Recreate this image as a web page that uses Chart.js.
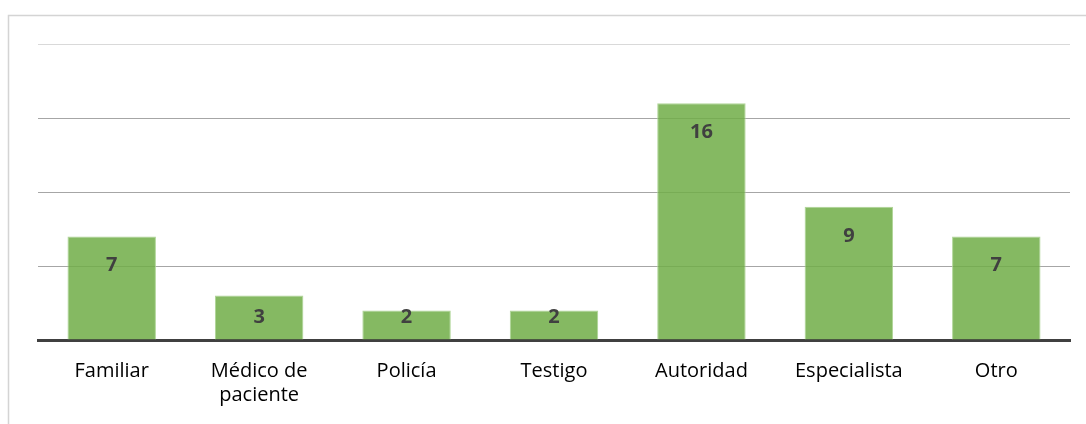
<!DOCTYPE html>
<html>
<head>
<meta charset="utf-8">
<script src="https://cdn.jsdelivr.net/npm/chart.js@4"></script>
<style>
  html, body { margin: 0; padding: 0; background: #ffffff; }
  #wrap { width: 1086px; height: 424px; position: relative; }
</style>
</head>
<body>
<div id="wrap"><canvas id="c" width="1086" height="424"></canvas></div>
<script>
const categories = ["Familiar", ["Médico de", "paciente"], "Policía", "Testigo", "Autoridad", "Especialista", "Otro"];
const values = [7, 3, 2, 2, 16, 9, 7];
const yTicks = [0, 5, 10, 15, 20];

const framePlugin = {
  id: 'frame',
  beforeDraw(chart) {
    const ctx = chart.ctx;
    ctx.save();
    ctx.fillStyle = '#ffffff';
    ctx.fillRect(0, 0, chart.width, chart.height);
    ctx.strokeStyle = '#d4d4d4';
    ctx.lineWidth = 1.5;
    ctx.beginPath();
    ctx.moveTo(8.5, chart.height + 5);
    ctx.lineTo(8.5, 15.5);
    ctx.lineTo(chart.width + 5, 15.5);
    ctx.stroke();
    ctx.restore();
  }
};

const labelPlugin = {
  id: 'barLabels',
  afterDatasetsDraw(chart) {
    const ctx = chart.ctx;
    const meta = chart.getDatasetMeta(0);
    const base = chart.scales.y.getPixelForValue(0);
    ctx.save();
    ctx.font = 'bold 20px "Open Sans"';
    ctx.fillStyle = '#404040';
    ctx.textAlign = 'center';
    ctx.textBaseline = 'middle';
    meta.data.forEach((bar, i) => {
      const y = Math.min(bar.y + 29, base - 23);
      ctx.fillText(String(values[i]), bar.x, y);
    });
    ctx.restore();
  }
};

new Chart(document.getElementById('c'), {
  type: 'bar',
  data: {
    labels: categories,
    datasets: [{
      data: values,
      backgroundColor: 'rgba(112,173,71,0.85)',
      borderColor: 'rgba(169,209,142,0.9)',
      borderWidth: 1,
      categoryPercentage: 1.0,
      barPercentage: 0.6
    }]
  },
  options: {
    responsive: false,
    animation: false,
    devicePixelRatio: 1,
    layout: { padding: { left: 38, right: 16, top: 44, bottom: 0 } },
    plugins: { legend: { display: false }, tooltip: { enabled: false } },
    scales: {
      x: {
        grid: { display: false, drawTicks: false },
        border: { display: true, color: '#404040', width: 3 },
        ticks: {
          color: '#000000',
          font: { family: '"Open Sans"', size: 20, lineHeight: 1.2 },
          padding: 19,
          maxRotation: 0,
          autoSkip: false
        },
        afterFit(scale) { scale.height = 84; }
      },
      y: {
        min: 0,
        max: 20,
        afterBuildTicks(scale) { scale.ticks = yTicks.map(v => ({ value: v })); },
        ticks: { display: false },
        grid: {
          drawTicks: false,
          color(ctx) { return ctx.tick && ctx.tick.value === 20 ? '#d9d9d9' : '#a6a6a6'; },
          lineWidth: 1
        },
        border: { display: false },
        afterFit(scale) { scale.width = 0; }
      }
    }
  },
  plugins: [framePlugin, labelPlugin]
});
</script>
</body>
</html>
